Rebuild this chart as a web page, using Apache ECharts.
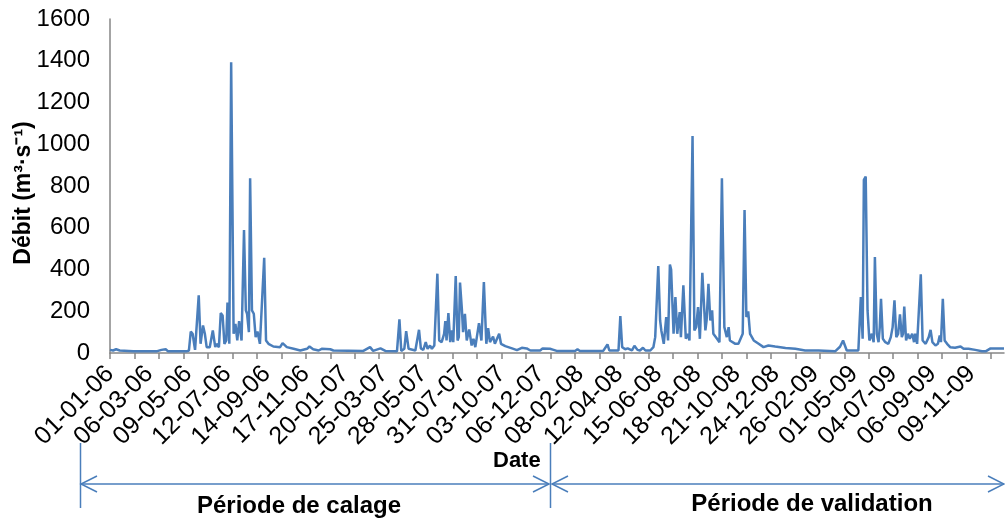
<!DOCTYPE html>
<html>
<head>
<meta charset="utf-8">
<script src="https://cdn.jsdelivr.net/npm/echarts@6/dist/echarts.min.js"></script>
<style>
html, body { margin: 0; padding: 0; background: #fff; }
#chart { width: 1005px; height: 521px; }
</style>
</head>
<body>
<div id="chart"></div>
<script>
// jours depuis le 01-01-06
var jours = [
  0, 5, 10, 16, 38, 76, 84, 91, 95, 125, 129, 132, 135, 139, 142, 145, 148, 152, 155, 158,
  163, 166, 168, 172, 174, 178, 181, 184, 187, 190, 192, 195, 198, 202, 205, 208, 211, 215, 219, 222,
  224, 227, 229, 232, 235, 238, 241, 245, 248, 252, 255, 259, 267, 278, 282, 289, 300, 311, 322, 326,
  332, 341, 346, 360, 365, 414, 425, 430, 442, 450, 469, 473, 476, 481, 484, 488, 499, 505, 508, 512,
  516, 519, 523, 526, 530, 535, 538, 542, 546, 548, 550, 553, 556, 559, 561, 565, 568, 570, 572, 575,
  577, 580, 583, 587, 591, 594, 597, 603, 607, 611, 615, 618, 621, 626, 629, 632, 636, 639, 646, 657,
  665, 673, 681, 687, 703, 707, 719, 725, 730, 760, 764, 768, 806, 813, 816, 831, 834, 837, 842, 846,
  853, 857, 862, 866, 871, 875, 883, 888, 891, 896, 899, 901, 905, 909, 912, 915, 917, 921, 924, 927,
  931, 933, 937, 941, 944, 947, 952, 955, 958, 961, 964, 968, 971, 973, 975, 978, 981, 984, 986, 992,
  996, 1000, 1004, 1008, 1011, 1013, 1022, 1027, 1030, 1034, 1037, 1040, 1043, 1046, 1052, 1060, 1068, 1076, 1087, 1104,
  1120, 1136, 1158, 1185, 1193, 1198, 1201, 1204, 1223, 1227, 1230, 1232, 1235, 1238, 1241, 1245, 1248, 1250, 1253, 1256,
  1258, 1260, 1263, 1267, 1272, 1276, 1279, 1282, 1285, 1288, 1291, 1294, 1296, 1298, 1301, 1304, 1307, 1311, 1314, 1316,
  1319, 1322, 1325, 1328, 1331, 1333, 1338, 1341, 1344, 1349, 1353, 1356, 1358, 1361, 1364, 1368, 1373, 1381, 1390, 1395,
  1403, 1414, 1425, 1431, 1439, 1447, 1461
];

var debits = [
  15, 12, 18, 12, 8, 8, 15, 18, 8, 8, 12, 103, 92, 15, 20, 276, 44, 132, 92, 28,
  28, 36, 108, 28, 44, 28, 191, 180, 44, 60, 242, 44, 1393, 92, 140, 60, 153, 60, 589, 204,
  188, 100, 837, 204, 188, 76, 103, 44, 36, 456, 60, 44, 31, 28, 47, 28, 20, 12, 20, 31,
  18, 12, 20, 18, 12, 10, 28, 10, 22, 10, 8, 161, 10, 20, 105, 20, 12, 111, 22, 15,
  52, 20, 36, 20, 36, 380, 60, 52, 92, 153, 60, 191, 52, 108, 52, 369, 60, 76, 337, 212,
  100, 188, 60, 113, 36, 68, 28, 143, 60, 340, 44, 119, 52, 79, 44, 36, 92, 44, 33, 22,
  14, 25, 22, 12, 12, 22, 20, 15, 10, 10, 18, 10, 10, 41, 12, 12, 177, 28, 18, 22,
  12, 35, 15, 12, 25, 12, 12, 28, 76, 417, 156, 108, 44, 172, 60, 424, 400, 92, 268, 92,
  196, 76, 324, 68, 92, 60, 1040, 108, 124, 220, 68, 384, 376, 108, 156, 332, 156, 204, 92, 68,
  52, 837, 124, 76, 124, 60, 44, 44, 36, 92, 685, 172, 199, 92, 60, 44, 28, 36, 31, 24,
  20, 12, 12, 8, 30, 60, 68, 12, 12, 268, 68, 829, 845, 204, 60, 92, 52, 460, 92, 52,
  124, 260, 68, 52, 44, 76, 124, 252, 76, 92, 185, 76, 92, 223, 60, 92, 68, 92, 52, 92,
  44, 52, 377, 60, 52, 44, 76, 111, 52, 36, 44, 84, 52, 260, 60, 44, 28, 25, 31, 20,
  20, 15, 8, 8, 22, 22, 22
];

var etiquettes = [
  '01-01-06', '06-03-06', '09-05-06', '12-07-06', '14-09-06', '17-11-06', '20-01-07', '25-03-07',
  '28-05-07', '31-07-07', '03-10-07', '06-12-07', '08-02-08', '12-04-08', '15-06-08', '18-08-08',
  '21-10-08', '24-12-08', '26-02-09', '01-05-09', '04-07-09', '06-09-09', '09-11-09'
];
var pasEtiquette = 64;   // une étiquette tous les 64 jours
var pasGraduation = 40;  // une graduation tous les 40 jours
var nbJours = 1461;

var bleu = '#4a7ebb';
var police = "'Liberation Sans', Arial, sans-serif";

var posEtiquettes = etiquettes.map(function (e, i) { return i * pasEtiquette; });
var posGraduations = [];
for (var g = 0; g <= nbJours; g += pasGraduation) posGraduations.push(g);

var myChart = echarts.init(document.getElementById('chart'));

var option = {
  animation: false,
  grid: { left: 110, right: 1, top: 19, bottom: 168, outerBoundsMode: 'none', containLabel: false },
  xAxis: {
    type: 'value',
    min: 0,
    max: nbJours,
    splitLine: { show: false },
    axisLine: { lineStyle: { color: '#868686', width: 1.5 } },
    axisTick: { customValues: posGraduations, length: 6, lineStyle: { color: '#868686', width: 1.5 } },
    axisLabel: {
      customValues: posEtiquettes,
      rotate: 45,
      margin: 17,
      fontSize: 25,
      color: '#000',
      fontFamily: police,
      formatter: function (v) {
        var i = Math.round(v / pasEtiquette);
        return etiquettes[i] || '';
      }
    }
  },
  yAxis: {
    type: 'value',
    min: 0,
    max: 1600,
    interval: 200,
    splitLine: { show: false },
    axisLine: { show: true, lineStyle: { color: '#868686', width: 1.5 } },
    axisTick: { show: false },
    axisLabel: {
      fontSize: 24, color: '#000', margin: 20, fontFamily: police,
      formatter: function (v) { return String(v); }
    }
  },
  series: [{
    type: 'line',
    symbol: 'none',
    data: jours.map(function (d, i) { return [d, debits[i]]; }),
    lineStyle: { color: bleu, width: 2.5 }
  }],
  graphic: [
    {
      type: 'text', x: 24, y: 193, rotation: Math.PI / 2,
      style: { text: 'Débit (m³·s⁻¹)', fontSize: 23, fontWeight: 'bold', fill: '#000', fontFamily: police, align: 'center', verticalAlign: 'middle' }
    },
    { type: 'text', left: 493, top: 450, style: { text: 'Date', fontSize: 22, fontWeight: 'bold', fill: '#000', fontFamily: police } },
    { type: 'line', shape: { x1: 80.5, y1: 443, x2: 80.5, y2: 508 }, style: { stroke: bleu, lineWidth: 1.5 } },
    { type: 'line', shape: { x1: 550.5, y1: 443, x2: 550.5, y2: 508 }, style: { stroke: bleu, lineWidth: 1.5 } },
    { type: 'line', shape: { x1: 81, y1: 484, x2: 549, y2: 484 }, style: { stroke: bleu, lineWidth: 1.5 } },
    { type: 'polyline', shape: { points: [[97, 476], [81, 484], [97, 492]] }, style: { stroke: bleu, lineWidth: 1.5, fill: null } },
    { type: 'polyline', shape: { points: [[533, 476], [549, 484], [533, 492]] }, style: { stroke: bleu, lineWidth: 1.5, fill: null } },
    { type: 'line', shape: { x1: 552, y1: 484, x2: 1004, y2: 484 }, style: { stroke: bleu, lineWidth: 1.5 } },
    { type: 'polyline', shape: { points: [[568, 476], [552, 484], [568, 492]] }, style: { stroke: bleu, lineWidth: 1.5, fill: null } },
    { type: 'polyline', shape: { points: [[988, 476], [1004, 484], [988, 492]] }, style: { stroke: bleu, lineWidth: 1.5, fill: null } },
    { type: 'text', x: 299, y: 506, style: { text: 'Période de calage', fontSize: 24, fontWeight: 'bold', fill: '#000', fontFamily: police, align: 'center', verticalAlign: 'middle' } },
    { type: 'text', x: 812, y: 504, style: { text: 'Période de validation', fontSize: 24, fontWeight: 'bold', fill: '#000', fontFamily: police, align: 'center', verticalAlign: 'middle' } }
  ]
};

myChart.setOption(option);
</script>
</body>
</html>
